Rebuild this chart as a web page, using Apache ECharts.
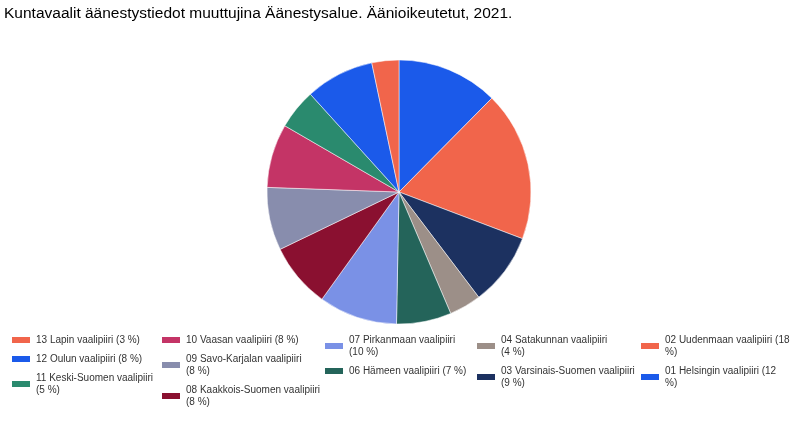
<!DOCTYPE html>
<html>
<head>
<meta charset="utf-8">
<script src="https://cdn.jsdelivr.net/npm/echarts@6/dist/echarts.min.js"></script>
<style>
  html, body { margin: 0; padding: 0; background: #fff; }
  #chart { width: 800px; height: 444px; }
</style>
</head>
<body>
<div id="chart"></div>
<script>
// äänioikeutetut vaalipiireittäin (arvioitu kuvasta)
var districts = [
    '01 Helsingin vaalipiiri', '02 Uudenmaan vaalipiiri', '03 Varsinais-Suomen vaalipiiri',
    '04 Satakunnan vaalipiiri', '06 Hämeen vaalipiiri', '07 Pirkanmaan vaalipiiri',
    '08 Kaakkois-Suomen vaalipiiri', '09 Savo-Karjalan vaalipiiri', '10 Vaasan vaalipiiri',
    '11 Keski-Suomen vaalipiiri', '12 Oulun vaalipiiri', '13 Lapin vaalipiiri'
];
var voters = [533000, 787000, 383000, 168000, 288000, 413000, 340000, 331000, 335000, 211000, 361000, 142000];
var colors = ['#1b5aea', '#f1654b', '#1c3160', '#9c8f88', '#24645a', '#7a91e6',
    '#8a1030', '#888dad', '#c43466', '#2a8a6e', '#1b5aea', '#f1654b'];

// legend columns (reading order in the picture)
var legendCols = [
    ['13 Lapin vaalipiiri', '12 Oulun vaalipiiri', '11 Keski-Suomen vaalipiiri'],
    ['10 Vaasan vaalipiiri', '09 Savo-Karjalan vaalipiiri', '08 Kaakkois-Suomen vaalipiiri'],
    ['07 Pirkanmaan vaalipiiri', '06 Hämeen vaalipiiri'],
    ['04 Satakunnan vaalipiiri', '03 Varsinais-Suomen vaalipiiri'],
    ['02 Uudenmaan vaalipiiri', '01 Helsingin vaalipiiri']
];
var legendLeft = [10, 160, 323, 475, 639];

// how the long legend labels wrap in the original
var wrapBeforePct = ['11 Keski-Suomen vaalipiiri', '09 Savo-Karjalan vaalipiiri',
    '08 Kaakkois-Suomen vaalipiiri', '07 Pirkanmaan vaalipiiri',
    '04 Satakunnan vaalipiiri', '03 Varsinais-Suomen vaalipiiri'];
var wrapInsidePct = ['02 Uudenmaan vaalipiiri', '01 Helsingin vaalipiiri'];

var total = voters.reduce(function(a, b) { return a + b; }, 0);
var pct = {};
districts.forEach(function(name, i) {
    pct[name] = Math.round(voters[i] / total * 100);
});

function legendLabel(name) {
    var p = '(' + pct[name] + ' %)';
    if (wrapBeforePct.indexOf(name) >= 0) return name + '\n' + p;
    if (wrapInsidePct.indexOf(name) >= 0) return name + ' (' + pct[name] + '\n%)';
    return name + ' ' + p;
}

var legends = legendCols.map(function(col, i) {
    return {
        data: col,
        orient: 'vertical',
        left: legendLeft[i],
        top: 334,
        padding: 0,
        itemGap: 7,
        itemWidth: 20,
        itemHeight: 8,
        icon: 'rect',
        selectedMode: false,
        formatter: legendLabel,
        textStyle: {
            fontFamily: 'Liberation Sans, Arial, sans-serif',
            fontSize: 10,
            lineHeight: 12,
            color: '#333'
        }
    };
});

var chart = echarts.init(document.getElementById('chart'));
chart.setOption({
    animation: false,
    title: {
        text: 'Kuntavaalit äänestystiedot muuttujina Äänestysalue. Äänioikeutetut, 2021.',
        left: 4,
        top: 6,
        padding: 0,
        textStyle: {
            fontFamily: 'Liberation Sans, Arial, sans-serif',
            fontSize: 15.5,
            fontWeight: 'normal',
            color: '#000'
        }
    },
    legend: legends,
    series: [{
        type: 'pie',
        center: [399, 192],
        radius: 132,
        startAngle: 90,
        clockwise: true,
        label: { show: false },
        labelLine: { show: false },
        emphasis: { disabled: true },
        itemStyle: { borderColor: '#fff', borderWidth: 0.5 },
        data: districts.map(function(name, i) {
            return { name: name, value: voters[i], itemStyle: { color: colors[i] } };
        })
    }]
});
</script>
</body>
</html>
